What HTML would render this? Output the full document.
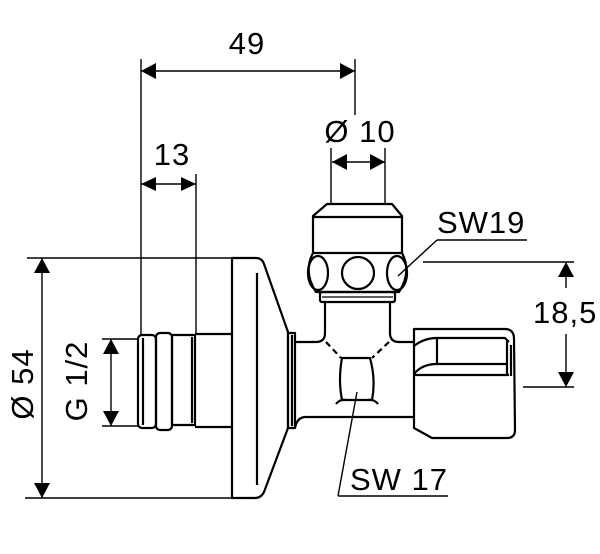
<!DOCTYPE html>
<html><head><meta charset="utf-8"><style>
html,body{margin:0;padding:0;background:#fff;}
svg{display:block;}
text{font-family:"Liberation Sans",Arial,sans-serif;font-size:31px;fill:#000;letter-spacing:1px;}
</style></head><body>
<svg width="600" height="554" viewBox="0 0 600 554" xmlns="http://www.w3.org/2000/svg">
<g fill="none" stroke="#000" stroke-width="1.4">
  <!-- 49 dimension -->
  <line x1="141" y1="59" x2="141" y2="335"/>
  <line x1="355" y1="59" x2="355" y2="115"/>
  <line x1="141" y1="71" x2="355" y2="71"/>
  <!-- 13 dimension -->
  <line x1="196" y1="174" x2="196" y2="334"/>
  <line x1="141" y1="184" x2="196" y2="184"/>
  <!-- Ø10 -->
  <line x1="331" y1="148" x2="331" y2="204"/>
  <line x1="385" y1="148" x2="385" y2="204"/>
  <line x1="332" y1="162" x2="385" y2="162"/>
  <!-- Ø54 -->
  <line x1="27" y1="258" x2="232" y2="258"/>
  <line x1="25" y1="498" x2="232" y2="498"/>
  <line x1="42" y1="258" x2="42" y2="498"/>
  <!-- G 1/2 -->
  <line x1="102" y1="339" x2="138" y2="339"/>
  <line x1="102" y1="426" x2="138" y2="426"/>
  <line x1="111" y1="339" x2="111" y2="426"/>
  <!-- 18,5 -->
  <line x1="423" y1="262" x2="574" y2="262"/>
  <line x1="523" y1="387" x2="574" y2="387"/>
  <line x1="566" y1="270" x2="566" y2="288"/>
  <line x1="566" y1="334" x2="566" y2="380"/>
  <!-- leaders -->
  <line x1="437" y1="240" x2="527" y2="240"/>
  <line x1="437" y1="240" x2="398" y2="276"/>
  <line x1="338" y1="496" x2="448" y2="496"/>
  <line x1="338" y1="496" x2="357" y2="392"/>
</g>
<g fill="#000" stroke="none">
  <polygon points="141,71 156,63 156,79"/>
  <polygon points="355,71 340,63 340,79"/>
  <polygon points="141,184 156,177 156,191"/>
  <polygon points="196,184 181,177 181,191"/>
  <polygon points="332,162 347,154 347,170"/>
  <polygon points="385,162 370,154 370,170"/>
  <polygon points="42,258 34,273 50,273"/>
  <polygon points="42,498 34,483 50,483"/>
  <polygon points="111,339 103,354 119,354"/>
  <polygon points="111,426 103,411 119,411"/>
  <polygon points="566,262 558,277 574,277"/>
  <polygon points="566,387 558,372 574,372"/>
</g>
<g fill="none" stroke="#000" stroke-width="2.2" stroke-linejoin="round">
  <!-- flange -->
  <path d="M232,258 L256,258 Q262,258 264,264 L288,332 L288,428 L264,492 Q261,498 255,498 L232,498 Z"/>
  <line x1="257" y1="273" x2="257" y2="485"/>
  <rect x="288" y="333" width="7" height="95"/>
  <line x1="292" y1="335" x2="292" y2="426"/>
  <!-- pipe stub -->
  <line x1="195" y1="334" x2="232" y2="334"/>
  <line x1="195" y1="427" x2="232" y2="427"/>
  <!-- threads -->
  <rect x="172" y="335" width="23" height="90"/>
  <line x1="192" y1="337" x2="192" y2="423"/>
  <rect x="156" y="333" width="16" height="97" rx="4"/>
  <rect x="138" y="335" width="18" height="93" rx="4"/>
  <line x1="143" y1="338" x2="143" y2="425"/>
  <!-- body -->
  <path d="M295,342 L316,342 Q325,342 325,333 L325,302"/>
  <path d="M390,302 L390,333 Q390,342 399,342 L414,342"/>
  <path d="M295,428 Q297,417 306,417 L414,417"/>
  <!-- dashed chamfers -->
  <path d="M326,342 L341,358 M389,342 L372,358" stroke-dasharray="6,4"/>
  <!-- SW17 nut -->
  <path d="M342,358 L370,358 Q376,380 372,400 L342,400 Q338,380 342,358 Z"/>
  <path d="M336,404 Q340,399 346,400 M378,404 Q374,399 368,400"/>
  <!-- outlet nut -->
  <path d="M414,329 L505,329 Q514,329 514,339 L515,430 Q515,438 507,438 L432,438 L414,428 Z"/>
  <path d="M414,346 Q424,338 437,338 L505,338 L509,342"/>
  <line x1="437" y1="338" x2="437" y2="363"/>
  <path d="M414,374 Q422,364 437,364 L507,364"/>
  <line x1="414" y1="375" x2="509" y2="375"/>
  <line x1="507" y1="340" x2="507" y2="376"/>
  <line x1="511" y1="345" x2="511" y2="376"/>
  <!-- cap -->
  <path d="M327,204 L392,204 L402,216 L402,253 L313,253 L313,216 Z"/>
  <line x1="313" y1="217" x2="402" y2="217"/>
  <path d="M313,253 Q303,272 316,292 L399,292 Q412,272 402,253"/>
  <ellipse cx="318" cy="273" rx="10" ry="17"/>
  <circle cx="358" cy="273" r="16"/>
  <ellipse cx="397" cy="273" rx="10" ry="17"/>
  <rect x="320" y="292" width="75" height="10" rx="2"/>
  <line x1="322" y1="297" x2="393" y2="297" stroke-width="1.3"/>
</g>
<text x="247" y="54" text-anchor="middle">49</text>
<text x="172" y="165" text-anchor="middle">13</text>
<text x="360" y="142" text-anchor="middle">Ø 10</text>
<text x="437" y="233">SW19</text>
<text x="533" y="323">18,5</text>
<text x="350" y="490">SW 17</text>
<text transform="translate(33,384) rotate(-90)" text-anchor="middle">Ø 54</text>
<text transform="translate(87,381) rotate(-90)" text-anchor="middle">G 1/2</text>
</svg>
</body></html>
